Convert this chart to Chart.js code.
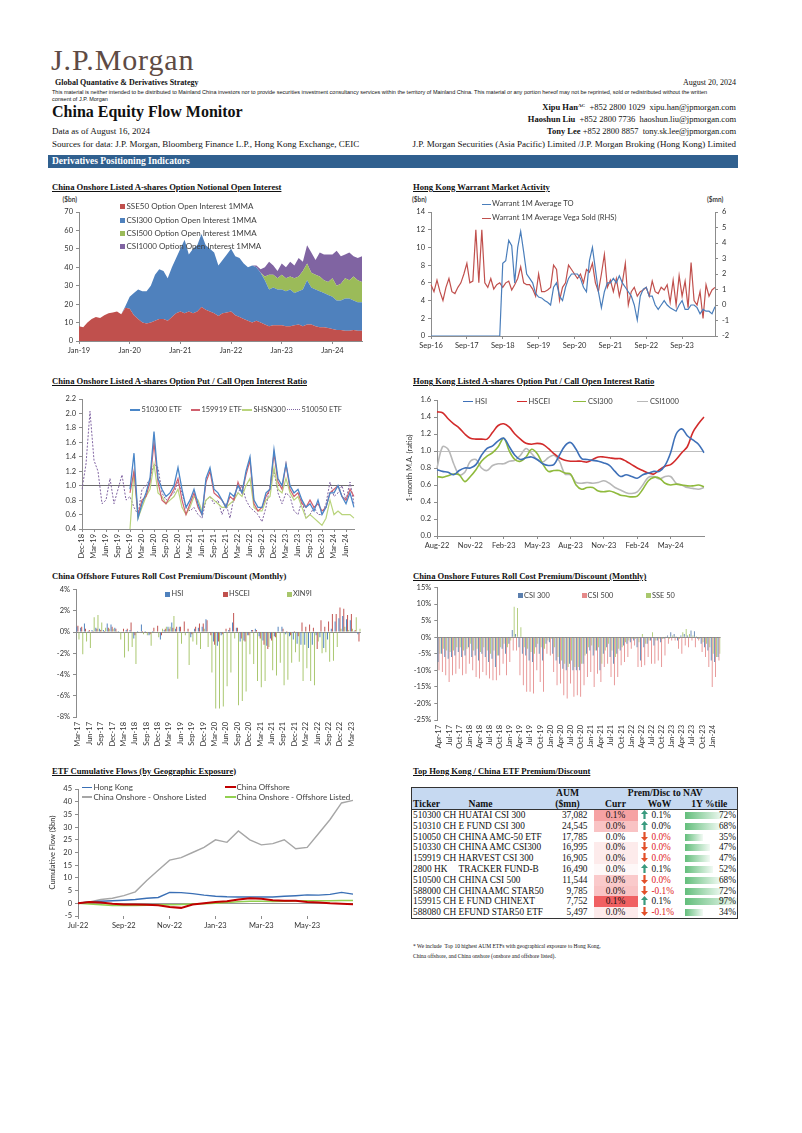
<!DOCTYPE html>
<html>
<head>
<meta charset="utf-8">
<title>China Equity Flow Monitor</title>
<script src="https://cdn.jsdelivr.net/npm/chart.js@4.4.1/dist/chart.umd.min.js"></script>
<style>
  html,body{margin:0;padding:0;background:#fff;}
  #page{position:relative;width:802px;height:1133px;overflow:hidden;background:#fff;font-family:"Liberation Serif","Times New Roman",serif;color:#111;}
  .t{position:absolute;white-space:nowrap;line-height:1;}
  .ttl{font-weight:bold;font-size:8.6px;}
  .u{text-decoration:underline;}
  canvas{position:absolute;}
  .lg{position:absolute;white-space:nowrap;line-height:1;font-family:Lato,"Liberation Sans",sans-serif;color:#404040;}
  .mk{position:absolute;}
  #etf{position:absolute;left:411px;top:787px;border-collapse:collapse;border:1.5px solid #333;font-family:"Liberation Serif",serif;font-size:9.3px;table-layout:fixed;width:326px;}
  #etf td,#etf th{padding:0;height:10.8px;line-height:10.8px;white-space:nowrap;overflow:hidden;font-weight:normal;}
  #etf thead th{background:#c6d9f1;font-weight:bold;height:10.5px;line-height:10.5px;font-size:9.6px;}
  #etf thead tr.h2 th{border-bottom:1.5px solid #333;}
</style>
</head>
<body>
<div id="page">
  <div class="t" style="left:51px;top:45px;font-size:30px;color:#5e4b44;letter-spacing:0.9px;">J.P.Morgan</div>
  <div class="t" style="left:55px;top:79px;font-size:8px;font-weight:bold;">Global Quantative &amp; Derivatives Strategy</div>
  <div class="t" style="right:66px;top:79px;font-size:8px;">August 20, 2024</div>
  <div class="t" style="left:52px;top:89px;font-size:5.5px;line-height:7.3px;font-family:'Liberation Sans',Arial,sans-serif;">This material is neither intended to be distributed to Mainland China investors nor to provide securities investment consultancy services within the territory of Mainland China. This material or any portion hereof may not be reprinted, sold or redistributed without the written<br>consent of J.P. Morgan</div>
  <div class="t" style="left:52px;top:104.4px;font-size:16px;font-weight:bold;">China Equity Flow Monitor</div>
  <div class="t" style="left:52px;top:127.3px;font-size:9px;">Data as of August 16, 2024</div>
  <div class="t" style="left:52px;top:139.9px;font-size:9px;">Sources for data: J.P. Morgan, Bloomberg Finance L.P., Hong Kong Exchange, CEIC</div>
  <div class="t" style="right:66px;top:103.2px;font-size:8.5px;"><b>Xipu Han</b><span style="font-size:5px;position:relative;top:-3px;font-weight:bold;">AC</span> &nbsp;+852 2800 1029 &nbsp;xipu.han@jpmorgan.com</div>
  <div class="t" style="right:66px;top:114.9px;font-size:8.5px;"><b>Haoshun Liu</b> &nbsp;+852 2800 7736 &nbsp;haoshun.liu@jpmorgan.com</div>
  <div class="t" style="right:66px;top:126.6px;font-size:8.5px;"><b>Tony Lee</b> +852 2800 8857 &nbsp;tony.sk.lee@jpmorgan.com</div>
  <div class="t" style="right:66px;top:139.9px;font-size:9px;">J.P. Morgan Securities (Asia Pacific) Limited /J.P. Morgan Broking (Hong Kong) Limited</div>
  <div class="t" style="left:48px;top:155px;width:686px;height:13.3px;line-height:13.3px;background:#30608f;color:#fff;font-weight:bold;font-size:9.5px;padding-left:4px;">Derivatives Positioning Indicators</div>

  <div class="t ttl u" style="left:52px;top:183px;">China Onshore Listed A-shares Option Notional Open Interest</div>
  <div class="t ttl u" style="left:413px;top:183px;">Hong Kong Warrant Market Activity</div>
  <div class="t ttl u" style="left:52px;top:377px;">China Onshore Listed A-shares Option Put / Call Open Interest Ratio</div>
  <div class="t ttl u" style="left:413px;top:377px;">Hong Kong Listed A-shares Option Put / Call Open Interest Ratio</div>
  <div class="t ttl" style="left:52px;top:572px;">China Offshore Futures Roll Cost Premium/Discount (Monthly)</div>
  <div class="t ttl u" style="left:413px;top:572px;">China Onshore Futures Roll Cost Premium/Discount (Monthly)</div>
  <div class="t ttl u" style="left:52px;top:766.5px;">ETF Cumulative Flows (by Geographic Exposure)</div>
  <div class="t ttl u" style="left:413px;top:766.5px;">Top Hong Kong / China ETF Premium/Discount</div>

  <div class="lg" style="left:62.5px;top:197px;font-size:6.5px;font-weight:bold;">($bn)</div>
  <div class="lg" style="left:412px;top:197px;font-size:6.5px;font-weight:bold;">($bn)</div>
  <div class="lg" style="left:707px;top:197px;font-size:6.5px;font-weight:bold;">($mn)</div>

  <table id="etf"></table>
  <div class="t" style="left:413px;top:943.5px;font-size:5.5px;">* We include &nbsp;Top 10 highest AUM ETFs with geographical exposure to Hong Kong,</div>
  <div class="t" style="left:413px;top:953.5px;font-size:5.5px;">China offshore, and China onshore (onshore and offshore listed).</div>
</div>

<script>
// ---------------- DATA ----------------
const MON = ['Jan','Feb','Mar','Apr','May','Jun','Jul','Aug','Sep','Oct','Nov','Dec'];
function monthLabels(m0, y0, n){
  const out = [];
  for (let i = 0; i < n; i++){
    const m = (m0 + i) % 12, y = y0 + Math.floor((m0 + i) / 12);
    out.push(MON[m] + '-' + String(y).padStart(2,'0'));
  }
  return out;
}

// option notional open interest ($bn), monthly Jan-19 .. Aug-24
const oiMonths = monthLabels(0, 19, 68);
const oiNames = ['SSE50 Option Open Interest 1MMA','CSI300 Option Open Interest 1MMA','CSI500 Option Open Interest 1MMA','CSI1000 Option Open Interest 1MMA'];
const oiSSE50 = [8,7.5,10,12,13,12.5,14,15,15.5,16,14.5,18, 17.5,14,12,10,9.5,10,11,12,12,11,13,15,
  16,15,16,15,16,18.5,17,16,15,13.5,15,15.5, 16,14,13,12,11,10,11,10,9,8,8.5,8.5,
  8.5,8,8,8.5,9,8,9,9,8,7.5,7.5,7, 6.5,6,6,5.5,5.5,6,5.5,5.5];
const oiCSI300 = [0,0,0,0,0,0,0,0,0,0,0,1, 6.5,12,16,17,17.5,20,25,27,26,23,27,30,
  34,40,31,35,36,39.5,35,34,33,27.5,29,31.5, 34,32,32,30,29,31,29,27,24,20,20.5,19.5,
  19.5,19,20,17.5,18,20,24,20,20,19.5,18.5,18, 17.5,16,16,17.5,17.5,16,15.5,15.5];
const oiCSI500 = [0,0,0,0,0,0,0,0,0,0,0,0, 0,0,0,0,0,0,0,0,0,0,0,0,
  0,0,0,0,0,0,0,0,0,0,0,0, 0,0,0,0,0,0,0,0,2,8,7,6,
  8,7,7,8,8,10,9,8,8,8,7,7, 10,8,9,11,10,13,12,11];
const oiCSI1000 = [0,0,0,0,0,0,0,0,0,0,0,0, 0,0,0,0,0,0,0,0,0,0,0,0,
  0,0,0,0,0,0,0,0,0,0,0,0, 0,0,0,0,0,0,1,2,5,7,5,4,
  6,6,8,7,10,5,10,11,8,13,14,15, 13,19,15,13,15,11,12,14];

// HK warrant activity, monthly Sep-16 .. Aug-24
const wMonths = monthLabels(8, 16, 96);
const wNames = ['Warrant 1M Average TO','Warrant 1M Average Vega Sold (RHS)'];
const wTO = [0,0,0,0, 0,0,0,0,0,0,0,0,0,0,0,0, 0,0,0,0,0,0,0,0,8.2,8.5,10.8,10.2,
  6,10,11.8,9.5,7,6.5,6,4.8,4.4,4.3,4,3.8, 3.5,5.5,6,4.5,4,5.5,6.5,7,7,7,6.5,5.5,
  5,8.5,10,7.5,5,3.2,5,6,6,6.5,6,6.8, 6,5.5,5,4.5,3.5,1.8,4.5,5.3,5.5,4.5,4.5,3.5,
  3,3.5,4,3.5,3.2,3,2.8,3.5,4,3,3,3.5, 3.5,3.2,2.5,3,2.8,2.8,2.5,3.3];
const wVega = [1.31,0.86,1.6,0.86, 0.29,1.14,1.71,0.86,0.74,1.14,1.43,2.0,2.69,1.43,1.54,4.86,
  1.43,4.86,1.43,1.14,1.71,1.03,1.31,1.43,1.14,1.43,1.54,0.97,
  1.31,1.71,2.46,1.43,1.31,1.31,1.03,0.57,2.0,0.86,0.86,0.97,
  1.14,2.57,2.29,0.29,1.14,1.43,2.57,2.29,2.0,1.71,2.0,1.43,
  2.29,2.11,2.69,1.43,0.86,2.0,3.26,1.14,1.6,0.86,1.71,0.57,
  1.43,2.69,0.0,0.86,1.14,0.57,0.86,0.97,1.14,0.57,1.54,0.86,
  0.74,1.14,0.97,1.31,0.17,1.6,0.0,1.89,0.57,1.54,-0.17,2.74,
  0.29,0.0,0.86,-0.86,1.31,0.57,0.97,1.14];

// A-shares option put/call OI ratio, monthly Dec-18 .. Aug-24
const pcMonths = monthLabels(11, 18, 69);
const pcNames = ['510300 ETF','159919 ETF','SHSN300','510050 ETF'];
const pc510300 = [null,null,null,null,null,null,null,null,null,null,null,null,
  0.95, 1.45,0.55,0.75,0.9,1.1,1.75,1.1,0.95,0.85,0.9,1.0,1.25,
  0.95,0.7,0.8,0.95,0.75,0.6,1.1,1.25,0.95,0.9,0.8,0.7,
  0.9,0.85,1.0,0.9,1.2,1.4,0.8,0.7,0.7,0.9,0.95,1.5,
  1.1,1.0,1.3,1.0,0.9,0.95,0.8,0.7,0.75,0.65,0.8,0.6,
  0.7,0.9,0.9,1.0,0.85,0.75,0.9,0.7];
const pc159919 = [null,null,null,null,null,null,null,null,null,null,null,null,
  0.9, 1.2,0.6,0.8,0.85,1.05,1.6,1.05,0.8,0.75,0.85,0.95,1.1,
  0.8,0.6,0.75,0.9,0.7,0.6,1.05,1.2,0.9,0.85,0.8,0.7,
  0.85,0.8,1.05,0.9,1.15,1.35,0.75,0.65,0.7,0.85,0.95,1.45,
  1.05,0.95,1.3,0.95,0.85,0.9,0.75,0.7,0.8,0.7,0.75,0.65,
  0.7,0.9,0.95,1.0,0.85,0.8,0.95,0.85];
const pcSHSN300 = [null,null,null,null,null,null,null,null,null,null,null,null,
  0.4, 1.2,0.55,0.7,0.85,0.95,1.3,0.9,0.85,0.75,0.8,0.85,0.95,
  0.7,0.6,0.7,0.85,0.8,0.65,0.8,0.85,0.8,0.75,0.7,0.7,
  0.75,0.8,0.9,0.85,1.0,1.1,0.7,0.65,0.65,0.8,0.85,1.25,
  0.95,0.9,1.1,0.9,0.8,0.85,0.7,0.55,0.6,0.55,0.5,0.45,
  0.55,0.8,0.6,0.65,0.6,0.6,0.6,0.55];
const pc510050 = [0.95, 1.3,2.03,1.35,1.2,0.75,0.8,1.1,0.75,0.95,1.15,0.8,0.85,
  0.7,0.6,0.95,1.0,1.1,1.3,1.25,0.9,0.8,0.85,0.9,1.05,
  0.9,0.7,0.65,0.7,0.6,0.55,0.8,0.85,0.75,0.8,0.6,0.75,
  0.55,0.85,0.9,1.0,0.8,0.7,0.65,0.6,0.5,0.7,1.0,1.2,
  0.9,0.75,0.9,0.85,0.65,0.6,0.8,0.55,0.6,0.7,0.6,0.6,
  0.75,1.05,0.85,0.9,1.0,0.8,1.05,0.75];

// HK listed put/call OI ratio (1-month MA), semi-monthly Aug-22 .. Aug-24
const hkMonths = monthLabels(7, 22, 25);
const hkNames = ['HSI','HSCEI','CSI300','CSI1000'];
const hkHSI = [0.78,0.76,0.75,0.72,0.77,0.80,0.80,0.84,0.95,1.03,1.06,1.12,1.15,1.05,0.95,0.90,0.92,0.93,0.90,0.85,
  0.83,0.84,0.95,1.06,1.10,1.02,0.91,0.90,0.89,0.88,0.86,0.83,0.76,0.70,0.72,0.70,0.68,0.72,0.74,0.76,
  0.76,0.83,0.98,1.20,1.26,1.18,1.13,1.08,0.98];
const hkHSCEI = [1.46,1.45,1.38,1.32,1.27,1.20,1.15,1.14,1.14,1.14,1.22,1.30,1.32,1.28,1.20,1.14,1.09,1.08,1.09,1.08,
  1.03,0.97,0.92,0.89,0.88,0.88,0.88,0.87,0.90,0.93,0.93,0.92,0.91,0.91,0.88,0.84,0.80,0.77,0.74,0.73,
  0.78,0.82,0.84,0.90,0.98,1.05,1.22,1.32,1.40];
const hkCSI300 = [0.70,0.69,0.71,0.73,0.72,0.64,0.70,0.78,0.88,0.94,0.98,1.05,1.15,1.00,0.90,0.88,0.93,1.02,0.97,0.85,
  0.76,0.77,0.77,0.74,0.73,0.60,0.55,0.57,0.57,0.53,0.52,0.53,0.51,0.48,0.47,0.46,0.47,0.55,0.65,0.69,
  0.68,0.62,0.60,0.61,0.60,0.59,0.59,0.60,0.58];
const hkCSI1000 = [0.80,1.05,1.02,0.85,0.72,0.75,0.88,0.90,0.80,0.77,0.83,0.85,0.85,0.88,0.89,0.95,1.03,0.97,0.90,0.87,
  0.92,0.95,0.88,0.73,0.72,0.63,0.62,0.63,0.62,0.63,0.65,0.62,0.57,0.54,0.51,0.50,0.52,0.60,0.69,0.70,
  0.67,0.70,0.70,0.62,0.60,0.57,0.56,0.55,0.57];

// offshore futures roll cost (%), monthly Mar-17 .. May-23
const offMonths = monthLabels(2, 17, 75);
const offNames = ['HSI','HSCEI','XIN9I'];
const offHSI = [0.5,0.4,0.8,0.1,0.2,0.4,0.3,0.2,0.8,0.7, 0.4,0.1,0.0,0.2,0.2,-0.6,0.1,0.7,0.1,-0.3,
  0.1,0.0,-0.7,0.2,0.5,0.9,0.3,0.5,0.0,-0.1, -0.5,0.3,0.4,0.5,1.2,-0.1,-0.9,-1.3,-0.3,-0.1,
  0.2,0.9,0.4,-0.9,-0.8,-0.3,0.2,0.3,-0.4,-0.8, -1.3,-0.6,-0.4,0.5,0.5,-0.2,-0.4,-0.7,-1.1,-1.2,
  -1.2,-1.5,-1.2,-0.3,-0.5,-1.5,-0.7,0.3,1.0,1.3, 1.5,1.2,1.1,0.1,-0.2];
const offHSCEI = [0.6,0.5,0.3,0.2,0.1,0.3,0.2,0.1,0.4,0.5, 0.3,0.0,0.3,0.3,0.9,-0.3,0.0,0.1,-0.1,-0.2,
  0.4,0.6,-0.3,0.3,0.3,0.4,0.5,0.5,1.0,0.3, -0.2,0.5,0.8,0.8,1.1,-0.3,-1.2,-0.9,-0.2,0.3,
  0.4,1.8,0.4,-0.6,-0.9,-0.3,0.2,0.2,-0.6,-1.2, -1.6,-0.8,-0.5,0.0,0.3,0.1,-0.3,0.1,-0.4,0.9,
  0.5,0.7,0.4,-1.6,1.1,0.5,1.0,1.7,1.7,2.3, 2.2,1.6,1.7,0.2,-0.9];
const offXIN9I = [-0.7,-2.1,-0.9,-1.5,1.4,1.6,0.9,0.4,0.3,0.3, 0.1,-0.7,-2.4,-1.8,-1.4,-3.0,-0.1,-0.2,-0.3,-1.3,
  -0.1,-0.5,0.3,0.5,0.5,1.5,-4.4,-1.1,-0.3,-3.1, -0.9,-1.2,-1.6,0.3,-1.4,-3.8,-7.2,-7.2,-7.0,-5.1,
  -3.8,-0.6,-6.9,-6.5,-5.6,-2.1,-3.0,-4.6,-5.2,-4.6, -1.4,-3.6,-4.1,-2.9,-5.0,-4.5,-2.9,-1.9,-2.8,-4.6,
  -3.4,-4.6,-5.0,-0.9,-2.0,-1.9,-2.8,-2.7,-1.4,0.3, 0.5,0.2,0.3,1.4,0.3];

// onshore futures roll cost (%), monthly Apr-17 .. Mar-24
const onMonths = monthLabels(3, 17, 84);
const onNames = ['CSI 300','CSI 500','SSE 50'];
const onCSI300 = [-7.5,-5,-6,-6.5,-6,-5.5,-4.5,-6,-5.5,-3, -6,-5.5,-7,-5,-6,-7.5,-6.5,-9,-5.5,-3.5,
  -5,-2,2.2,1.0,-3,-5,-5.5,-7,-7.5,-3, -5,-7,-2,-1.5,-5,-7,-8,-9.5,-10,-8,
  -10,-10,-10,-8,-5,-4,-5.5,-4,-10,-5, -3,-6,-8,-5,-4,-2.5,-2,-1.5,-1,-3,
  -7,-3,-2,-1,-2.5,-1,-1.5,-0.5,0.5,1.5, 1.0,-1,0.5,1.0,0.5,2.0,1.8,-0.5,-2,-3, -4,-7,-7.5,-6];
const onCSI500 = [-10,-10.5,-11.5,-13.5,-11.5,-11,-9.5,-11.5,-11,-8, -10,-12,-12.5,-10.5,-11.5,-12.5,-13,-13,-11.5,-8,
  -11.5,-7.5,-4,-4,-11.5,-14.5,-16.5,-16.5,-17,-10, -13.5,-16.5,-5,-5.5,-10.5,-14.5,-14,-17.5,-18.5,-14,
  -18,-17.5,-18,-14.5,-12,-10.5,-15,-11,-13.5,-9, -8,-12,-14.5,-12,-8.5,-7.5,-6,-3.5,-2.5,-9,
  -9,-8.5,-6,-8,-8,-7,-9,-5.5,-2,-1, -1,-3.5,-5,-2.5,-3,-1,-3,-1,-4.5,-6, -9,-15,-12,-7];
const onSSE50 = [-5,-3.5,-4,-4.5,-4,-3,-3,-4,-3.5,-2, -4,-3.5,-4.5,-3,-4,-5,-4,-5.5,-3,-2,
  -3,-1,9.2,8.8,3.0,-3,-3.5,-4.5,-5,-2, -3,-3.5,-1,-0.5,-3,-6,-7,-8,-9,-7,
  -9,-9,-8,-5.5,-3,-2.5,-4,-3,-8,-4, -2,-4,-6,-3.5,-3,-1.5,-1,-0.5,-0.5,-1.5,
  1.0,-2,-1,1.5,-1,-0.5,-0.5,0.2,-0.5,0.5, 0.3,-0.5,1.5,2.5,1.0,0.5,0.3,-0.5,-1.5,-2, -3,-5,-6,-5];

// ETF cumulative flows ($bn), semi-monthly Jul-22 .. Jul-23
const flowMonths = monthLabels(6, 22, 13);
const flowNames = ['Hong Kong','China Offshore','China Onshore - Onshore Listed','China Onshore - Offshore Listed'];
const flowHK = [0,0.5,0.8,1.0,1.2,1.5,2.0,2.3,4.3,4.2,3.8,3.2,2.8,2.6,2.5,2.5,2.5,2.5,2.8,3.0,3.3,3.2,3.5,4.3,3.6];
const flowOff = [0,0.5,0.3,-0.2,-0.5,-0.5,-0.6,-0.8,-1.5,-1.8,-0.5,0,0.5,0.8,1.5,2.0,1.8,1.2,1.0,1.0,0.5,0.3,0.0,-0.2,-0.4];
const flowOnOn = [0,0.5,1.5,2,3,4.5,9,13,17,18,20,22,25,24,28.5,25,23,23.5,25,21.5,22,27.5,33,39.5,40.5];
const flowOnOff = [0,-0.3,-0.6,-0.8,-0.8,-0.8,-0.7,-0.6,-0.6,-0.5,-0.3,-0.2,0,0.3,0.6,0.8,0.8,0.7,0.8,0.9,1.0,1.0,1.0,1.1,1.1];

// ETF premium/discount table
const etfTicker = ['510300 CH','510310 CH','510050 CH','510330 CH','159919 CH','2800 HK','510500 CH','588000 CH','159915 CH','588080 CH'];
const etfName = ['HUATAI CSI 300','E FUND CSI 300','CHINA AMC-50 ETF','CHINA AMC CSI300','HARVEST CSI 300','TRACKER FUND-B','CHINA CSI 500','CHINAAMC STAR50','E FUND CHINEXT','EFUND STAR50 ETF'];
const etfAum = [37082,24545,17785,16995,16905,16490,11544,9785,7752,5497];
const etfCurr = [0.07,0.045,0.0,0.015,0.015,0.005,0.04,0.045,0.12,0.015];
const etfWoW = [0.06,0.02,-0.01,-0.02,-0.02,0.06,-0.03,-0.07,0.08,-0.07];
const etfTile = [72,68,35,47,47,52,68,72,97,34];

// ---------------- CHART HELPERS ----------------
const page = document.getElementById('page');
const AX = '#8c8c8c', TXT = '#333';
Chart.defaults.font.family = 'Lato, "Liberation Sans", sans-serif';
Chart.defaults.font.size = 7.5;
Chart.defaults.color = TXT;
Chart.defaults.animation = false;
Chart.defaults.plugins.legend.display = false;
Chart.defaults.plugins.tooltip.enabled = false;
Chart.defaults.elements.point.radius = 0;
Chart.defaults.elements.line.borderWidth = 1.2;

function merge(a, b){
  for (const k in b){
    if (b[k] && typeof b[k] === 'object' && !Array.isArray(b[k]) && typeof b[k] !== 'function'){
      a[k] = merge(a[k] || {}, b[k]);
    } else a[k] = b[k];
  }
  return a;
}

function makeChart(box, cfg){
  const c = document.createElement('canvas');
  c.width = box.w; c.height = box.h;
  c.style.left = box.x + 'px'; c.style.top = box.y + 'px';
  c.style.width = box.w + 'px'; c.style.height = box.h + 'px';
  page.appendChild(c);
  cfg.options = merge(cfg.options || {}, {
    responsive: false,
    layout: { padding: { top: box.pt, right: box.pr, left: 0, bottom: 0 } }
  });
  return new Chart(c, cfg);
}

function yAxis(w, min, max, step, extra){
  return merge({
    min: min, max: max,
    ticks: { stepSize: step, padding: 3, color: TXT },
    border: { color: AX },
    grid: { drawOnChartArea: false, tickLength: 3, color: AX },
    afterFit: s => { s.width = w; }
  }, extra || {});
}

function xAxis(h, show, extra){
  return merge({
    ticks: { autoSkip: false, maxRotation: 0, minRotation: 0, padding: 2, color: TXT,
      callback: function(v, i){ return show(i) ? this.getLabelForValue(v) : ''; } },
    border: { color: AX },
    grid: { drawOnChartArea: false, tickLength: 3, color: c => show(c.index) ? AX : 'rgba(0,0,0,0)' },
    afterFit: s => { s.height = h; }
  }, extra || {});
}

// reference line drawn as a single coloured grid line
function refGrid(val, col){
  return { drawOnChartArea: true, tickLength: 3, tickColor: AX,
    color: c => (c.tick && Math.abs(c.tick.value - val) < 1e-6) ? col : 'rgba(0,0,0,0)' };
}

function legend(items, fs){
  items.forEach(it => {
    const m = document.createElement('div');
    m.className = 'mk';
    if (it.k === 'sq'){
      m.style.cssText = `left:${it.mx}px;top:${it.y - 2.5}px;width:5px;height:5px;background:${it.c};`;
    } else if (it.k === 'dash'){
      m.style.cssText = `left:${it.mx}px;top:${it.y - 0.6}px;width:${it.mw}px;height:0;border-top:1.2px dotted ${it.c};`;
    } else {
      m.style.cssText = `left:${it.mx}px;top:${it.y - (it.lw||1.5)/2}px;width:${it.mw}px;height:${it.lw||1.5}px;background:${it.c};`;
    }
    page.appendChild(m);
    const d = document.createElement('div');
    d.className = 'lg';
    d.style.left = it.tx + 'px';
    d.style.top = (it.y - fs * 0.55) + 'px';
    d.style.fontSize = fs + 'px';
    d.textContent = it.label;
    page.appendChild(d);
  });
}

// ---------------- 1. OPTION NOTIONAL OI ----------------
const oiColors = ['#c0504d','#4f81bd','#9bbb59','#8064a2'];
const oiSeries = [oiSSE50, oiCSI300, oiCSI500, oiCSI1000];
makeChart({x:50, y:198, w:320, h:160, pt:14, pr:8}, {
  type: 'line',
  data: { labels: oiMonths, datasets: oiSeries.map((d, k) => ({
    label: oiNames[k], data: d, backgroundColor: oiColors[k], borderWidth: 0,
    fill: k === 0 ? 'origin' : '-1', pointRadius: 0 })) },
  options: { scales: {
    x: xAxis(17, i => oiMonths[i].startsWith('Jan')),
    y: yAxis(29, 0, 70, 10, { stacked: true })
  } }
});
legend(oiNames.map((n, k) => ({label: n, c: oiColors[k], k: 'sq', mx: 120, tx: 126.5, y: 206.7 + k * 13.3})), 8);

// ---------------- 2. HK WARRANT ----------------
makeChart({x:405, y:198, w:340, h:155, pt:14, pr:0}, {
  type: 'line',
  data: { labels: wMonths, datasets: [
    { label: wNames[0], data: wTO, borderColor: '#4a7ebb', borderWidth: 1.2, yAxisID: 'y' },
    { label: wNames[1], data: wVega, borderColor: '#c0504d', borderWidth: 1.2, yAxisID: 'y1' }
  ] },
  options: { scales: {
    x: xAxis(17, i => i % 12 === 0),
    y: yAxis(26, 0, 14, 2),
    y1: yAxis(30, -2, 6, 1, { position: 'right', ticks: { padding: 4 } })
  } }
});
legend([
  {label: wNames[0], c: '#4a7ebb', k: 'line', mx: 481.5, mw: 9, tx: 492, y: 204.3},
  {label: wNames[1], c: '#c0504d', k: 'line', mx: 481.5, mw: 9, tx: 492, y: 218.3}
], 7.6);

// ---------------- 3. A-SHARE PUT/CALL ----------------
const pcColors = ['#4a86c8','#d0606e','#b9d47c','#8064a2'];
makeChart({x:50, y:390, w:315, h:180, pt:9, pr:7}, {
  type: 'line',
  data: { labels: pcMonths, datasets: [
    { label: pcNames[0], data: pc510300, borderColor: pcColors[0], borderWidth: 1.3 },
    { label: pcNames[1], data: pc159919, borderColor: pcColors[1], borderWidth: 1.2 },
    { label: pcNames[2], data: pcSHSN300, borderColor: pcColors[2], borderWidth: 1.2 },
    { label: pcNames[3], data: pc510050, borderColor: pcColors[3], borderWidth: 1, borderDash: [2, 1.5] }
  ] },
  options: { scales: {
    x: xAxis(41, i => i % 3 === 0, { ticks: { maxRotation: 90, minRotation: 90 } }),
    y: yAxis(32, 0.4, 2.2, 0.2, { ticks: { callback: v => v.toFixed(1) }, grid: refGrid(1, '#6b6b6b') })
  } }
});
legend([
  {label: pcNames[0], c: pcColors[0], k: 'line', mx: 130, mw: 10, tx: 141.5, y: 410},
  {label: pcNames[1], c: pcColors[1], k: 'line', mx: 191, mw: 9, tx: 201.5, y: 410},
  {label: pcNames[2], c: pcColors[2], k: 'line', mx: 242, mw: 10, tx: 253.5, y: 410},
  {label: pcNames[3], c: pcColors[3], k: 'dash', mx: 287, mw: 13, tx: 301.5, y: 410}
], 7.4);

// ---------------- 4. HK LISTED PUT/CALL ----------------
const hkLabels = [];
hkMonths.forEach((m, i) => { hkLabels.push(m); if (i < hkMonths.length - 1) hkLabels.push(''); });
const hkColors = ['#3e70b8','#d22b2b','#8fba3c','#b8b8b8'];
makeChart({x:405, y:392, w:310, h:165, pt:8, pr:11}, {
  type: 'line',
  data: { labels: hkLabels, datasets: [hkHSI, hkHSCEI, hkCSI300, hkCSI1000].map((d, k) => ({
    label: hkNames[k], data: d, borderColor: hkColors[k], borderWidth: 1.6, tension: 0.35 })) },
  options: { scales: {
    x: xAxis(21, i => i % 6 === 0 && i < 48),
    y: yAxis(32, 0, 1.6, 0.2, { ticks: { callback: v => v.toFixed(1) }, grid: refGrid(1, '#bdbdbd'),
      title: { display: true, text: '1-month M.A. (ratio)', padding: 0, color: TXT, font: { size: 7.5 } } })
  } }
});
legend([
  {label: hkNames[0], c: hkColors[0], k: 'line', mx: 463, mw: 10, tx: 475, y: 401.7},
  {label: hkNames[1], c: hkColors[1], k: 'line', mx: 517, mw: 10, tx: 528.5, y: 401.7},
  {label: hkNames[2], c: hkColors[2], k: 'line', mx: 573, mw: 13, tx: 588, y: 401.7},
  {label: hkNames[3], c: hkColors[3], k: 'line', mx: 637, mw: 11, tx: 650, y: 401.7}
], 7.6);

// ---------------- 5. OFFSHORE ROLL ----------------
const offColors = ['#4f81bd','#c0504d','#a8c66c'];
makeChart({x:48, y:582, w:322, h:170, pt:4, pr:5}, {
  type: 'bar',
  data: { labels: offMonths, datasets: [offHSI, offHSCEI, offXIN9I].map((d, k) => ({
    label: offNames[k], data: d, backgroundColor: offColors[k], barPercentage: 0.9, categoryPercentage: 0.85 })) },
  options: { scales: {
    x: xAxis(35, i => i % 3 === 0, { ticks: { maxRotation: 90, minRotation: 90 }, border: { display: false }, grid: { display: false } }),
    y: yAxis(28, -8, 4, 2, { ticks: { callback: v => v + '%' }, grid: refGrid(0, '#8c8c8c') })
  } }
});
legend([
  {label: offNames[0], c: offColors[0], k: 'sq', mx: 165, tx: 171.5, y: 594},
  {label: offNames[1], c: offColors[1], k: 'sq', mx: 222.5, tx: 229, y: 594},
  {label: offNames[2], c: offColors[2], k: 'sq', mx: 286.5, tx: 293, y: 594}
], 7.4);

// ---------------- 6. ONSHORE ROLL ----------------
const onColors = ['#5b7fae','#e58a8a','#a9c86e'];
makeChart({x:405, y:580, w:325, h:175, pt:7.3, pr:8.3}, {
  type: 'bar',
  data: { labels: onMonths, datasets: [onCSI300, onCSI500, onSSE50].map((d, k) => ({
    label: onNames[k], data: d, backgroundColor: onColors[k], barPercentage: 0.9, categoryPercentage: 0.85 })) },
  options: { scales: {
    x: xAxis(35, i => i % 3 === 0, { ticks: { maxRotation: 90, minRotation: 90 }, border: { display: false }, grid: { display: false } }),
    y: yAxis(32.3, -25, 15, 5, { ticks: { callback: v => v + '%' }, grid: refGrid(0, '#8c8c8c') })
  } }
});
legend([
  {label: onNames[0], c: onColors[0], k: 'sq', mx: 518, tx: 524, y: 595.7},
  {label: onNames[1], c: onColors[1], k: 'sq', mx: 581.5, tx: 587.5, y: 595.7},
  {label: onNames[2], c: onColors[2], k: 'sq', mx: 646, tx: 652, y: 595.7}
], 7.4);

// ---------------- 7. ETF CUMULATIVE FLOWS ----------------
const flowLabels = [];
flowMonths.forEach((m, i) => { flowLabels.push(m); if (i < flowMonths.length - 1) flowLabels.push(''); });
const flowColors = ['#3a6fb5','#c00000','#a6a6a6','#92d050'];
const flowWidths = [1.4, 2, 1.4, 1.6];
makeChart({x:48, y:780, w:315, h:155, pt:9, pr:10}, {
  type: 'line',
  data: { labels: flowLabels, datasets: [flowOff, flowHK, flowOnOff, flowOnOn].map((d, j) => {
    const k = [1, 0, 3, 2][j];
    return { label: flowNames[k], data: d, borderColor: flowColors[k], borderWidth: flowWidths[k] };
  }) },
  options: { scales: {
    x: xAxis(19, i => i % 4 === 0 && i < 24, { border: { display: false } }),
    y: yAxis(30, -5, 45, 5, { grid: refGrid(0, '#9a9a9a'),
      title: { display: true, text: 'Cumulative Flow ($bn)', padding: 0, color: TXT, font: { size: 7.5 } } })
  } }
});
legend([
  {label: flowNames[0], c: flowColors[0], k: 'line', mx: 82, mw: 10, tx: 93.5, y: 787.3},
  {label: flowNames[1], c: flowColors[1], k: 'line', mx: 225, mw: 11, tx: 236.5, y: 787.3, lw: 2},
  {label: flowNames[2], c: flowColors[2], k: 'line', mx: 82, mw: 10, tx: 93.5, y: 797},
  {label: flowNames[3], c: flowColors[3], k: 'line', mx: 225, mw: 11, tx: 236.5, y: 797}
], 8);

// ---------------- 8. ETF TABLE ----------------
function arrow(up){
  const col = up ? '#3a9a7e' : '#e2502a';
  const p = up ? 'M3.5 0 L7 4 L4.6 4 L4.6 9 L2.4 9 L2.4 4 L0 4 Z' : 'M3.5 9 L7 5 L4.6 5 L4.6 0 L2.4 0 L2.4 5 L0 5 Z';
  return `<svg width="7" height="9" viewBox="0 0 7 9" style="vertical-align:-1px;margin-left:3px;margin-right:4px"><path d="${p}" fill="${col}"/></svg>`;
}
function heat(v){
  const f = Math.min(1, v / 0.12);
  const r = Math.round(255 + (240 - 255) * f), g = Math.round(255 + (96 - 255) * f), b = Math.round(255 + (98 - 255) * f);
  return `rgb(${r},${g},${b})`;
}
const fmt1 = v => (Math.round(v * 10) / 10 + 0).toFixed(1) + '%';
let html = '<colgroup><col style="width:46px"><col style="width:90px"><col style="width:40px"><col style="width:6px"><col style="width:44px"><col style="width:44px"><col style="width:56px"></colgroup>';
html += '<thead><tr><th></th><th></th><th style="text-align:center">AUM</th><th></th><th colspan="3" style="text-align:center;padding-left:0">Prem/Disc to NAV</th></tr>';
html += '<tr class="h2"><th style="text-align:left;padding-left:1px">Ticker</th><th style="text-align:left;padding-left:11px">Name</th><th style="text-align:center">($mn)</th><th></th><th style="text-align:center">Curr</th><th style="text-align:center">WoW</th><th style="text-align:center">1Y %tile</th></tr></thead><tbody>';
etfTicker.forEach((t, i) => {
  const w = etfWoW[i];
  html += '<tr>' +
    `<td style="padding-left:1px">${t}</td>` +
    `<td style="padding-left:1px">${etfName[i]}</td>` +
    `<td style="text-align:right;padding-right:0">${etfAum[i].toLocaleString('en-US')}</td><td></td>` +
    `<td style="text-align:center;background:${heat(etfCurr[i])}">${fmt1(etfCurr[i])}</td>` +
    `<td style="color:${w < 0 ? '#e02020' : '#111'}">${arrow(w >= 0)}${fmt1(w)}</td>` +
    `<td style="position:relative"><span style="position:absolute;left:3px;top:2px;height:7px;width:${etfTile[i] * 0.54}px;background:linear-gradient(to right,#63be7b,#f2faf4)"></span><span style="position:absolute;right:1px;top:0">${etfTile[i]}%</span></td>` +
    '</tr>';
});
html += '</tbody>';
document.getElementById('etf').innerHTML = html;
</script>
</body>
</html>
